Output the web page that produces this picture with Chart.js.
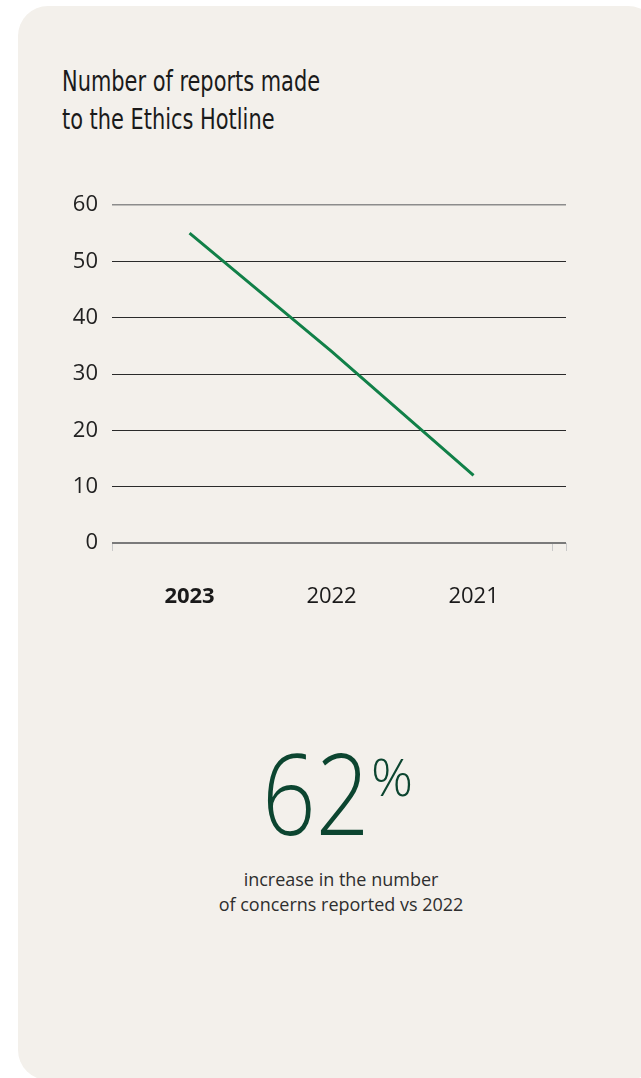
<!DOCTYPE html>
<html><head><meta charset="utf-8">
<script src="https://cdn.jsdelivr.net/npm/chart.js@4.4.0/dist/chart.umd.min.js"></script>
<style>
html,body{margin:0;padding:0;background:#fff;}
body{width:641px;height:1078px;position:relative;overflow:hidden;}
#card{position:absolute;left:18px;top:6px;width:640px;height:1074px;border-radius:30px;background:#f3f0eb;}
#title{position:absolute;left:62px;top:63px;font-family:'Liberation Sans Narrow','DejaVu Sans Condensed',sans-serif;font-size:28px;line-height:38px;color:#1a1a1a;white-space:nowrap;transform:scaleX(0.83);transform-origin:0 0;}
#cv{position:absolute;left:0;top:0;}
#num{position:absolute;left:262px;top:736px;font-family:'Open Sans','Noto Sans',sans-serif;font-weight:300;font-size:112px;line-height:112px;color:#0c4530;transform:scaleX(0.84);transform-origin:0 0;white-space:nowrap;}
#pct{position:absolute;left:371px;top:750px;font-family:'Open Sans','Noto Sans',sans-serif;font-weight:300;font-size:52px;line-height:52px;color:#0c4530;}
#desc{position:absolute;left:141px;width:400px;top:867px;text-align:center;font-family:'Open Sans','Noto Sans',sans-serif;font-size:18px;line-height:25px;color:#2e2e2e;}
</style></head>
<body>
<div id="card"></div>
<div id="title">Number of reports made<br>to the Ethics Hotline</div>
<canvas id="cv" width="641" height="640"></canvas>
<div id="num">62</div>
<div id="pct">%</div>
<div id="desc">increase in the number<br>of concerns reported vs 2022</div>
<script>
const categories = ['2023', '2022', '2021'];
const reports = [55, 34, 12];
const yMin = 0, yMax = 60, yStep = 10;
const boldCategory = '2023';

const X_MIN = -0.546, X_MAX = 2.651, X_EXTRA_TICK = 2.558;

const points = categories.map((c, i) => ({x: i, y: reports[i]}));
const isLabelTick = v => Number.isInteger(v) && v >= 0 && v < categories.length;

new Chart(document.getElementById('cv'), {
  type: 'line',
  data: {
    datasets: [{
      data: points,
      borderColor: '#118048',
      borderWidth: 3,
      pointRadius: 0,
      tension: 0,
      fill: false,
      borderCapStyle: 'butt'
    }]
  },
  options: {
    responsive: false,
    animation: false,
    devicePixelRatio: 1,
    layout: {padding: {left: 0, right: 75, top: 205, bottom: 0}},
    plugins: {legend: {display: false}, tooltip: {enabled: false}},
    scales: {
      x: {
        type: 'linear',
        min: X_MIN,
        max: X_MAX,
        afterBuildTicks: s => { s.ticks = [X_MIN, 0, 1, 2, X_EXTRA_TICK, X_MAX].map(v => ({value: v})); },
        afterFit: s => { s.height = 640 - 543; },
        border: {display: false},
        grid: {
          drawOnChartArea: false,
          drawTicks: true,
          tickLength: 8,
          lineWidth: 1,
          color: ctx => (ctx.tick && isLabelTick(ctx.tick.value)) ? 'rgba(0,0,0,0)' : '#c9c9c9'
        },
        ticks: {
          autoSkip: false,
          maxRotation: 0,
          padding: 33,
          color: '#1a1a1a',
          callback: v => isLabelTick(v) ? categories[v] : '',
          font: ctx => {
            const v = ctx.tick ? ctx.tick.value : null;
            const bold = isLabelTick(v) && categories[v] === boldCategory;
            return {family: "'Open Sans','Noto Sans',sans-serif", size: 22, weight: bold ? '700' : '400'};
          }
        }
      },
      y: {
        min: yMin,
        max: yMax,
        afterFit: s => { s.width = 112; },
        border: {display: false},
        grid: {
          drawTicks: false,
          color: ctx => {
            const v = ctx.tick ? ctx.tick.value : null;
            if (v === yMax) return '#8c8c8c';
            if (v === yMin) return '#7a7a7a';
            return '#2a2a2a';
          },
          lineWidth: ctx => {
            const v = ctx.tick ? ctx.tick.value : null;
            if (v === yMin) return 2;
            if (v === yMax) return 1.5;
            return 1;
          }
        },
        ticks: {
          stepSize: yStep,
          padding: 14,
          color: '#222',
          font: {family: "'Open Sans','Noto Sans',sans-serif", size: 22, weight: '400'}
        }
      }
    }
  }
});
</script>
</body></html>
